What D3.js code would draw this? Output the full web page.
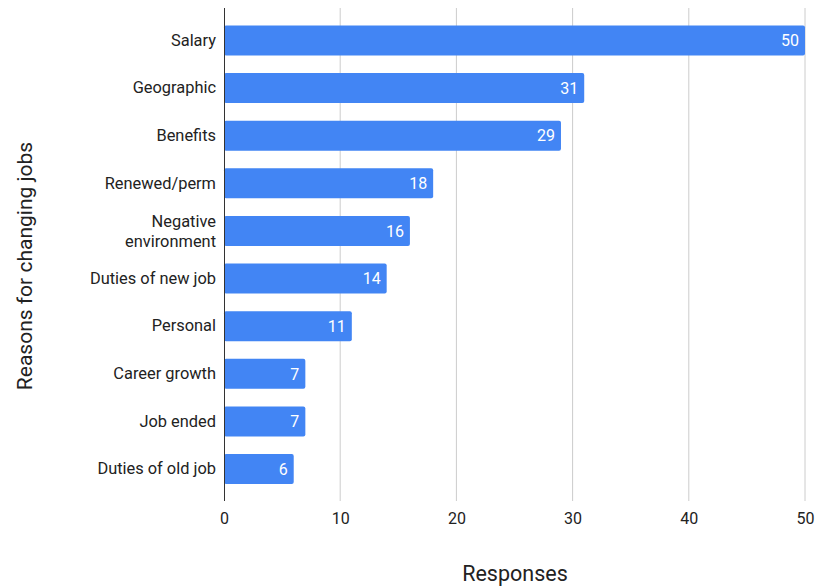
<!DOCTYPE html>
<html><head><meta charset="utf-8">
<script src="https://cdn.jsdelivr.net/npm/d3@7"></script>
<style>body{margin:0;background:#fff;} text{font-family:Roboto, "Noto Sans", sans-serif;}</style>
</head><body>
<svg id="c" width="815" height="586"></svg>
<script>
const categories = ["Salary","Geographic","Benefits","Renewed/perm","Negative environment","Duties of new job","Personal","Career growth","Job ended","Duties of old job"];
const values = [50,31,29,18,16,14,11,7,7,6];
const xTicks = [0,10,20,30,40,50];
const xTitle = "Responses";
const yTitle = "Reasons for changing jobs";

const svg = d3.select("#c");
const x = d3.scaleLinear().domain([0,50]).range([224,805]);
const y = d3.scaleBand().domain(categories).range([16.7,492.8]).paddingInner(0.37).paddingOuter(0.185);

// gridlines
svg.append("g").selectAll("line").data(xTicks.filter(d=>d>0)).join("line")
  .attr("x1",d=>x(d)).attr("x2",d=>x(d)).attr("y1",8).attr("y2",501)
  .attr("stroke","#cccccc").attr("stroke-width",1);

// bars
svg.append("g").selectAll("rect").data(categories).join("rect")
  .attr("x",x(0)).attr("y",d=>y(d)).attr("height",y.bandwidth())
  .attr("width",(d,i)=>x(values[i])-x(0)).attr("fill","#4285F4").attr("rx",2);

// value labels
svg.append("g").selectAll("text").data(categories).join("text")
  .attr("x",(d,i)=>x(values[i])-6).attr("y",d=>y(d)+y.bandwidth()/2)
  .attr("dy","0.36em").attr("text-anchor","end").attr("fill","#ffffff")
  .attr("font-size",16).text((d,i)=>values[i]);

// axis line
svg.append("line").attr("x1",x(0)+0.5).attr("x2",x(0)+0.5).attr("y1",8).attr("y2",501)
  .attr("stroke","#333").attr("stroke-width",1);

// x tick labels
const xa = d3.axisBottom(x).tickValues(xTicks).tickSize(0).tickPadding(0);
const gx = svg.append("g").attr("transform","translate(0,513)").call(xa);
gx.select(".domain").remove();
gx.selectAll("text").attr("font-size",16).attr("fill","#222").attr("dy","0.71em").style("font-family","Roboto, sans-serif");

// y category labels
const ya = d3.axisLeft(y).tickSize(0).tickPadding(0);
const gy = svg.append("g").attr("transform","translate(216,0)").call(ya);
gy.select(".domain").remove();
gy.selectAll("text").attr("font-size",16.4).attr("fill","#222").style("font-family","Roboto, sans-serif")
  .each(function(d){
    const t = d3.select(this);
    if (d === "Negative environment") {
      t.text(null);
      t.append("tspan").attr("x",0).attr("dy","-0.25em").text("Negative");
      t.append("tspan").attr("x",0).attr("dy","1.2em").text("environment");
    }
  });

// titles
svg.append("text").attr("x",515).attr("y",581).attr("text-anchor","middle")
  .attr("font-size",21.5).attr("fill","#222").text(xTitle);
svg.append("text").attr("transform","translate(32,266) rotate(-90)").attr("text-anchor","middle")
  .attr("font-size",21).attr("fill","#222").text(yTitle);
</script>
</body></html>
